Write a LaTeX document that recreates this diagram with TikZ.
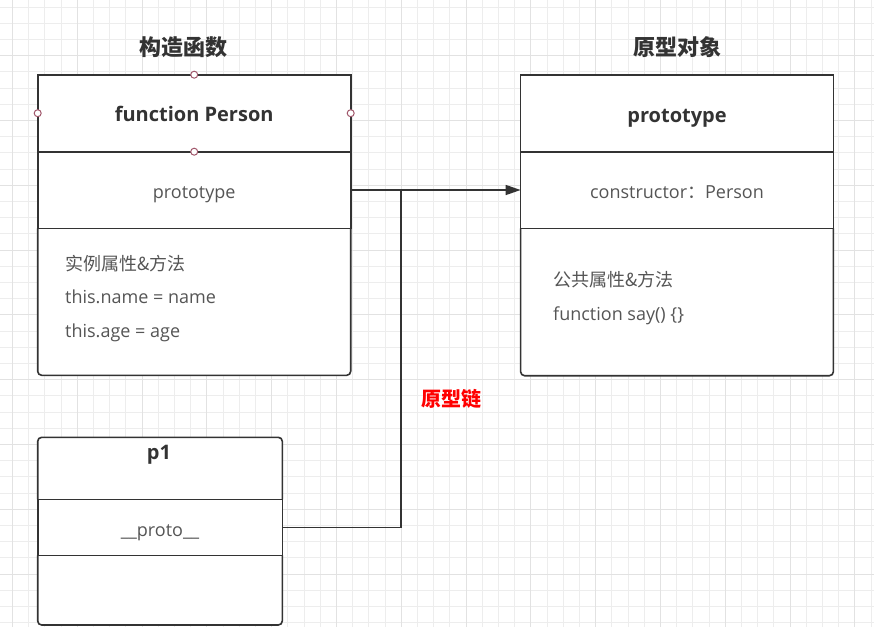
\documentclass[tikz,border=0pt]{standalone}
\usepackage{fontspec}
\setmainfont{Open Sans}
\newfontfamily\cjk{Noto Sans CJK SC}
\usetikzlibrary{arrows.meta}
\definecolor{linec}{HTML}{333333}
\definecolor{txt}{HTML}{555555}
\definecolor{boldc}{HTML}{333333}
\definecolor{gridc}{HTML}{EDEDED}
\definecolor{gridm}{HTML}{E2E2E2}
\definecolor{dotc}{HTML}{A0566A}
\begin{document}
\begin{tikzpicture}[x=1pt,y=-1pt,
  cell/.style={inner sep=0pt, outer sep=0pt, anchor=north west},
  edge/.style={draw=linec, line width=1.6pt},
  reg/.style={font=\fontsize{18}{22}\selectfont, text=txt, inner sep=0pt},
  boldtxt/.style={font=\fontsize{20}{24}\selectfont\bfseries, text=boldc, inner sep=0pt},
  cjktitle/.style={font=\cjk\fontsize{22}{26}\selectfont\bfseries, text=boldc, inner sep=0pt},
  conn/.style={draw=linec, line width=1.6pt},
  cpoint/.style={circle, draw=dotc, fill=white, line width=1pt, minimum size=7pt, inner sep=0pt}
]
\useasboundingbox (0,0) rectangle (874,627);
\fill[white] (0,0) rectangle (874,627);
% grid
\foreach \i in {0,...,53} {\draw[gridc, line width=1pt] ({12.5+16.2*\i},0) -- ({12.5+16.2*\i},627);}
\foreach \j in {0,...,38} {\draw[gridc, line width=1pt] (0,{7+16.2*\j}) -- (874,{7+16.2*\j});}
\foreach \i in {0,4,...,52} {\draw[gridm, line width=1pt] ({12.5+16.2*\i},0) -- ({12.5+16.2*\i},627);}
\foreach \j in {3,7,...,38} {\draw[gridm, line width=1pt] (0,{7+16.2*\j}) -- (874,{7+16.2*\j});}

% titles
\node[cjktitle] (t1) at (183,47) {构造函数};
\node[cjktitle] (t2) at (677,47) {原型对象};

% box 1: function Person
\node[cell, fill=white, minimum width=313pt, minimum height=77pt] (fpH) at (37.7,74.7) {};
\node[cell, fill=white, minimum width=313pt, minimum height=76.6pt] (fpP) at (37.7,151.7) {};
\node[cell, fill=white, minimum width=313pt, minimum height=147pt] (fpB) at (37.7,228.3) {};
\draw[edge] (fpH.south west) -- (fpH.north west) -- (fpH.north east) -- (fpH.south east);
\draw[edge] (fpP.north west) rectangle (fpP.south east);
\draw[edge, rounded corners=4pt] (fpB.north west) -- (fpB.south west) -- (fpB.south east) -- (fpB.north east);
\node[boldtxt, yshift=-1pt] (fpHt) at (fpH.center) {function Person};
\node[reg, yshift=-4.5pt] (fpPt) at (fpP.center) {prototype};
\node[reg, anchor=west] (fpB1) at (65,263.5) {\cjk 实例属性\&方法};
\node[reg, anchor=west] (fpB2) at (65,297) {this.name = name};
\node[reg, anchor=west] (fpB3) at (65,333) {this.age = age};
\node[cpoint] (d1) at (fpH.north) {};
\node[cpoint] (d2) at (fpH.west) {};
\node[cpoint] (d3) at (fpH.east) {};
\node[cpoint] (d4) at (fpH.south) {};

% box 2: prototype
\node[cell, fill=white, minimum width=312.8pt, minimum height=76.7pt] (ppH) at (520.6,75) {};
\node[cell, fill=white, minimum width=312.8pt, minimum height=76.6pt] (ppP) at (520.6,151.7) {};
\node[cell, fill=white, minimum width=312.8pt, minimum height=147.4pt] (ppB) at (520.6,228.3) {};
\draw[edge] (ppH.south west) -- (ppH.north west) -- (ppH.north east) -- (ppH.south east);
\draw[edge] (ppP.north west) rectangle (ppP.south east);
\draw[edge, rounded corners=4pt] (ppB.north west) -- (ppB.south west) -- (ppB.south east) -- (ppB.north east);
\node[boldtxt, yshift=-5pt] (ppHt) at (ppH.center) {prototype};
\node[reg, yshift=-2pt] (ppPt) at (ppP.center) {constructor{\cjk ：}Person};
\node[reg, anchor=west] (ppB1) at (553,280) {\cjk 公共属性\&方法};
\node[reg, anchor=west] (ppB2) at (553,315.5) {function say() \{\}};

% box 3: p1
\node[cell, fill=white, minimum width=244.6pt, minimum height=62pt] (p1H) at (37.7,437.3) {};
\node[cell, fill=white, minimum width=244.6pt, minimum height=56pt] (p1P) at (37.7,499.3) {};
\node[cell, fill=white, minimum width=244.6pt, minimum height=69.7pt] (p1B) at (37.7,555.3) {};
\draw[edge, rounded corners=4pt] (p1H.south west) -- (p1H.north west) -- (p1H.north east) -- (p1H.south east);
\draw[edge] (p1P.north west) rectangle (p1P.south east);
\draw[edge, rounded corners=4pt] (p1B.north west) -- (p1B.south west) -- (p1B.south east) -- (p1B.north east);
\node[boldtxt] (p1Ht) at (159,455) {p1};
\node[reg, yshift=-5pt] (p1Pt) at (p1P.center) {\_\_proto\_\_};

% connectors
\coordinate (j) at (401,190);
\draw[conn, -{Triangle[length=15pt,width=10pt]}] (fpP.east) -- (ppP.west);
\draw[conn] (p1P.east) -| (j);
\node[font=\cjk\fontsize{20}{24}\selectfont\bfseries, text=red, inner sep=0pt] (lbl) at (451,399) {原型链};
\end{tikzpicture}
\end{document}
